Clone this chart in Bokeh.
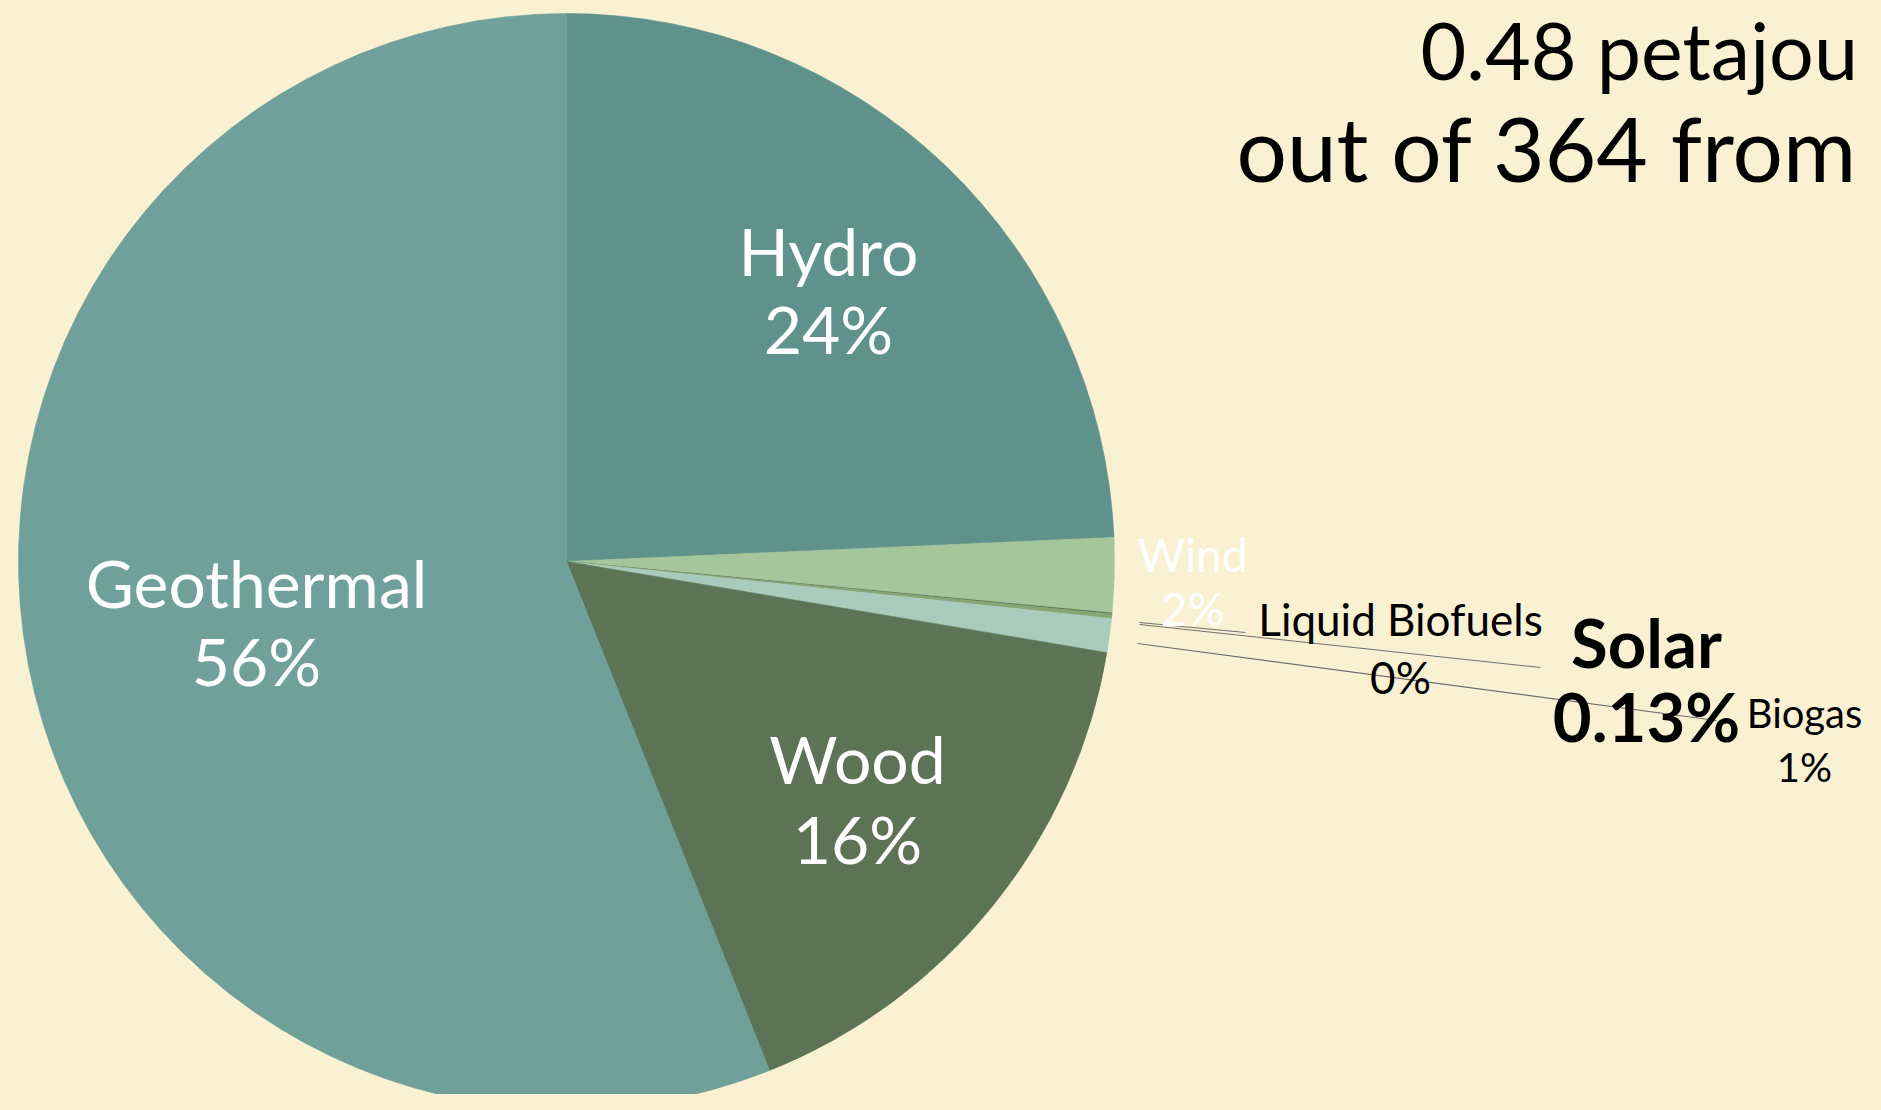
from bokeh.plotting import figure
from bokeh.models import Range1d, ColumnDataSource
from bokeh.core.properties import value
from bokeh.embed import file_html
from bokeh.resources import INLINE
import numpy as np

# ---- data (percent shares, clockwise from 12 o'clock) ----
sources = ["Hydro", "Wind", "Liquid Biofuels", "Solar", "Biogas", "Wood", "Geothermal"]
shares = [24.3, 2.2, 0.03, 0.13, 1.0, 16.3, 56.04]
label_pct = ["24%", "2%", "0%", "0.13%", "1%", "16%", "56%"]
colors = ["#5F928B", "#A5C69B", "#4F6E52", "#86A673", "#A9CBBE", "#5C7455", "#6FA09A"]
title_lines = ["0.48 petajou", "out of 364 from"]

BG = "#FAF1D3"
W, H = 1865, 1094
FONT = "Lato"

# data coordinates == picture pixels (x right, y = 1110 - pixel row)
p = figure(width=W, height=H, output_backend="svg", toolbar_location=None,
           x_axis_type=None, y_axis_type=None, min_border=0,
           x_range=Range1d(0, W), y_range=Range1d(1110 - H, 1110))
p.background_fill_color = BG
p.border_fill_color = BG
p.outline_line_color = None
p.grid.visible = False

def Y(y):
    return 1110 - y

def TY(y, fs):
    # place text so its alphabetic baseline lands on row y
    return 1110 - (y - 0.39 * fs)

# pie geometry (pixels)
cx, cy, r = 566, 561, 548

vals = np.array(shares, dtype=float)
frac = vals / vals.sum()
cum = np.concatenate([[0], np.cumsum(frac)])
start_deg = 90 - cum[:-1] * 360
end_deg = 90 - cum[1:] * 360

src = ColumnDataSource(dict(
    x=[cx] * len(sources), y=[Y(cy)] * len(sources),
    start=np.radians(end_deg), end=np.radians(start_deg),
    color=colors, name=sources))
p.wedge(x="x", y="y", radius=r, start_angle="start", end_angle="end",
        fill_color="color", line_color="color", line_width=0.6, source=src)

# leader lines for the small slices
leaders = {
    "Liquid Biofuels": ((1139, 622), (1245, 632)),
    "Solar": ((1139, 624), (1540, 667)),
    "Biogas": ((1137, 643), (1716, 720)),
}
for k, ((x0, y0), (x1, y1)) in leaders.items():
    p.line([x0, x1], [Y(y0), Y(y1)], line_color="#707070", line_width=1.1)

# labels: (center x, baseline name, baseline pct, size, color, weight)
lab = {
    "Hydro": (828, 276, 354, 66, "white", "normal"),
    "Geothermal": (256, 608, 686, 66, "white", "normal"),
    "Wood": (857, 784, 864, 66, "white", "normal"),
    "Wind": (1192, 572, 626, 46, "white", "normal"),
    "Liquid Biofuels": (1400, 636, 694, 44, "black", "normal"),
    "Solar": (1646, 668, 742, 67, "black", "bold"),
    "Biogas": (1804, 728, 782, 40, "black", "normal"),
}
for name, pct in zip(sources, label_pct):
    x, y1, y2, fs, col, fw = lab[name]
    p.text(x=[x, x], y=[TY(y1, fs), TY(y2, fs)], text=[name, pct],
           text_font=value(FONT), text_font_size=f"{fs}px",
           text_color=col, text_font_style=fw,
           text_align="center", text_baseline="alphabetic")

# title (right side)
p.text(x=[1420], y=[TY(80, 79)], text=[title_lines[0]],
       text_font=value(FONT), text_font_size="79px", text_color="black",
       text_align="left", text_baseline="alphabetic")
p.text(x=[1236], y=[TY(182, 89)], text=[title_lines[1]],
       text_font=value(FONT), text_font_size="89px", text_color="black",
       text_align="left", text_baseline="alphabetic")

html = file_html(p, INLINE)
html = html.replace("</head>", "<style>html,body{background:%s;}</style></head>" % BG, 1)
open("out.html", "w").write(html)
